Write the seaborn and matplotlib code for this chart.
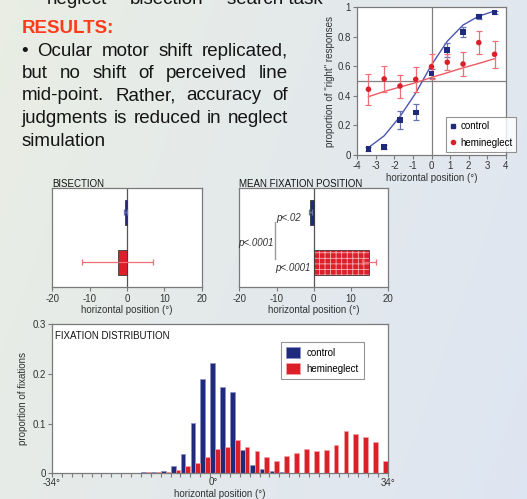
import numpy as np
import pandas as pd
import matplotlib
matplotlib.use("Agg")
import matplotlib.pyplot as plt
import seaborn as sns
from matplotlib.lines import Line2D
from matplotlib.patches import Patch
from matplotlib.ticker import FuncFormatter
import matplotlib.transforms as mtransforms

# ---------------- data ----------------
psy_x = [-3.4, -2.55, -1.7, -0.85, 0.0, 0.85, 1.7, 2.55, 3.4]
ctrl_prop = [0.041, 0.056, 0.237, 0.289, 0.553, 0.711, 0.831, 0.937, 0.966]
ctrl_err = [0.015, 0.015, 0.06, 0.055, 0.03, 0.045, 0.035, 0.015, 0.01]
ctrl_fit = [0.05, 0.13, 0.26, 0.42, 0.61, 0.77, 0.88, 0.94, 0.975]
neg_prop = [0.445, 0.515, 0.467, 0.512, 0.598, 0.628, 0.616, 0.761, 0.682]
neg_err = [0.105, 0.09, 0.078, 0.087, 0.085, 0.053, 0.08, 0.08, 0.09]
neg_fit = [0.395, 0.43, 0.46, 0.49, 0.525, 0.557, 0.59, 0.62, 0.652]

groups = ["control", "hemineglect"]
bisect_mean = [-0.45, -2.5]
bisect_err = [0.4, 9.5]
fix_mean = [-0.9, 14.85]
fix_err = [0.4, 1.8]
p_labels = ["p<.02", "p<.0001", "p<.0001"]

bin_left = list(range(-34, 34, 2))  # 2-degree bins, -34..34
hist_ctrl = [0.0008, 0.0008, 0.0008, 0.0008, 0.0008, 0.0008, 0.001, 0.001, 0.001,
             0.002, 0.003, 0.005, 0.015, 0.038, 0.102, 0.19, 0.223, 0.174, 0.164,
             0.047, 0.017, 0.009, 0.005, 0.003, 0.001,
             0.0005, 0.0005, 0.0005, 0.0005, 0.0005, 0.0005, 0.0005, 0.0005, 0.0005]
hist_neg = [0.0008, 0.0008, 0.0008, 0.0008, 0.0008, 0.0008, 0.0008, 0.0008, 0.0008,
            0.002, 0.002, 0.002, 0.006, 0.015, 0.020, 0.033, 0.049, 0.053, 0.067,
            0.053, 0.045, 0.032, 0.025, 0.034, 0.040, 0.048, 0.044, 0.046, 0.057,
            0.086, 0.080, 0.074, 0.063, 0.024]
hist_xlabels = ["-34°", "0°", "34°"]

# ---------------- style ----------------
BLUE = "#1f2a7c"
RED = "#dc2029"
BLUE_ERR = "#6a72b0"
RED_ERR = "#ee6f76"
SPINE = "#7a7a7a"
TXT = "#151515"
TICK_TXT = "#333333"
BODY_FS = 13.5

plt.rcParams["font.family"] = ["Liberation Sans", "DejaVu Sans"]
plt.rcParams["axes.unicode_minus"] = False
plt.rcParams["hatch.linewidth"] = 0.6

W, H = 527, 499
fig = plt.figure(figsize=(W / 100, H / 100), dpi=100)


def fx(x):
    return x / W


def fy(y):
    return 1 - y / H


def rect(l, t, r, b):
    return [l / W, 1 - b / H, (r - l) / W, (b - t) / H]


def style_axes(ax, fs=7):
    for s in ax.spines.values():
        s.set_color(SPINE)
        s.set_linewidth(0.9)
    ax.tick_params(labelsize=fs, colors=SPINE, labelcolor=TICK_TXT,
                   length=3, width=0.8, pad=1.5)
    ax.set_facecolor("white")


# ---------------- background ----------------
bg = fig.add_axes([0, 0, 1, 1], zorder=-10)
gx, gy = np.meshgrid(np.linspace(0, 1, 200), np.linspace(0, 1, 200))
tt = np.clip(0.75 * gx + 0.25 * gy, 0, 1)[..., None]
c0 = np.array([0.915, 0.931, 0.895])
c1 = np.array([0.870, 0.900, 0.950])
bg.imshow(c0 * (1 - tt) + c1 * tt, aspect="auto", extent=[0, 1, 0, 1], origin="upper")
bg.axis("off")

# ---------------- poster text ----------------
renderer = fig.canvas.get_renderer()
for word, x in [("neglect", 46.5), ("bisection", 130), ("search task", 227)]:
    fig.text(fx(x), fy(3.5), word, fontsize=BODY_FS, color=TXT, va="baseline", ha="left")

fig.text(fx(21.7), fy(33.3), "RESULTS:", fontsize=13.5, fontweight="bold",
         color="#ff3b1c", va="baseline", ha="left")


def justified(words, x0, x1, ybase, fs=BODY_FS):
    arts = [fig.text(0, 0, w, fontsize=fs, color=TXT, va="baseline", ha="left") for w in words]
    widths = [a.get_window_extent(renderer).width for a in arts]
    gap = (x1 - x0 - sum(widths)) / (len(words) - 1)
    x = x0
    for a, w in zip(arts, widths):
        a.set_position((fx(x), fy(ybase)))
        x += w + gap


body = [
    ["•", "Ocular", "motor", "shift", "replicated,"],
    ["but", "no", "shift", "of", "perceived", "line"],
    ["mid-point.", "Rather,", "accuracy", "of"],
    ["judgments", "is", "reduced", "in", "neglect"],
]
baselines = [55.5, 78, 100.5, 123]
for words, yb in zip(body, baselines):
    justified(words, 21.7, 288.3, yb)
fig.text(fx(21.7), fy(145.5), "simulation", fontsize=BODY_FS, color=TXT,
         va="baseline", ha="left")

# ---------------- psychometric plot ----------------
ax = fig.add_axes(rect(357.3, 7.3, 505.7, 155))
style_axes(ax)
ax.axvline(0, color="#808080", lw=0.9, zorder=1)
ax.axhline(0.5, color="#808080", lw=0.9, zorder=1)
sns.lineplot(x=psy_x, y=ctrl_fit, color="#4a55b0", lw=1.0, ax=ax, zorder=2)
sns.lineplot(x=psy_x, y=neg_fit, color="#ec5a62", lw=1.0, ax=ax, zorder=2)
ax.errorbar(psy_x, ctrl_prop, yerr=ctrl_err, fmt="none", ecolor=BLUE_ERR,
            elinewidth=0.9, capsize=2.5, capthick=0.9, zorder=3)
ax.errorbar(psy_x, neg_prop, yerr=neg_err, fmt="none", ecolor=RED_ERR,
            elinewidth=0.9, capsize=2.5, capthick=0.9, zorder=3)
sns.scatterplot(x=psy_x, y=ctrl_prop, marker="s", color=BLUE, s=16,
                edgecolor="none", ax=ax, zorder=4)
sns.scatterplot(x=psy_x, y=neg_prop, marker="o", color=RED, s=16,
                edgecolor="none", ax=ax, zorder=4)
ax.set_xlim(-4, 4)
ax.set_ylim(0, 1)
ax.set_xticks(range(-4, 5))
ax.set_yticks([0, 0.2, 0.4, 0.6, 0.8, 1.0])
ax.yaxis.set_major_formatter(FuncFormatter(lambda v, p: f"{v:g}"))
ax.set_xlabel("horizontal position (°)", fontsize=7, color=TICK_TXT, labelpad=1)
ax.set_ylabel('proportion of "right" responses', fontsize=7, color=TICK_TXT, labelpad=2)
h = [Line2D([], [], marker="s", color=BLUE, ls="none", markersize=3),
     Line2D([], [], marker="o", color=RED, ls="none", markersize=3)]
leg = ax.legend(h, groups, loc="lower left", bbox_to_anchor=(0.596, 0.022),
                borderaxespad=0, fontsize=7, frameon=True, fancybox=False,
                handlelength=0.6, handletextpad=0.5, borderpad=0.4, labelspacing=0.7)
leg.get_frame().set_edgecolor(SPINE)
leg.get_frame().set_linewidth(0.8)
leg.set_zorder(10)


# ---------------- bar panels ----------------
def bar_panel(ax, means, errs, title):
    style_axes(ax)
    sns.barplot(x=means, y=groups, hue=groups, palette=[BLUE, RED], orient="h",
                width=0.5, saturation=1, legend=False, ax=ax,
                edgecolor="#3a3a3a", linewidth=0.6, zorder=2)
    for i, (m, e, c) in enumerate(zip(means, errs, [BLUE_ERR, RED_ERR])):
        ax.errorbar([m], [i], xerr=[e], fmt="none", ecolor=c,
                    elinewidth=0.9, capsize=2.5, capthick=0.9, zorder=3)
    ax.axvline(0, color="#555555", lw=0.9, zorder=1)
    ax.set_xlim(-20, 20)
    ax.set_ylim(1.497, -0.483)
    ax.set_xticks([-20, -10, 0, 10, 20])
    ax.set_yticks([])
    ax.set_ylabel("")
    ax.set_xlabel("horizontal position (°)", fontsize=7, color=TICK_TXT, labelpad=1)
    ax.text(0, 1.018, title, transform=ax.transAxes, fontsize=7, color=TXT,
            ha="left", va="baseline")


axb = fig.add_axes(rect(52.3, 188.3, 201.7, 287.3))
bar_panel(axb, bisect_mean, bisect_err, "BISECTION")

axm = fig.add_axes(rect(239.3, 188.3, 388.3, 287.3))
bar_panel(axm, fix_mean, fix_err, "MEAN FIXATION POSITION")
for p in axm.patches:
    fc = p.get_facecolor()
    if fc[0] > 0.6:
        p.set_hatch("+++")
        p._hatch_color = (1.0, 0.88, 0.9, 0.75)
# significance annotations
axm.plot([-10.5, -10.5], [0.2, 0.94], color="#9a9a9a", lw=1.0, zorder=2)
axm.text(-6.9, 0.117, p_labels[0], fontsize=7, style="italic", color=TICK_TXT,
         ha="center", va="center")
axm.text(-15.5, 0.605, p_labels[1], fontsize=7, style="italic", color=TICK_TXT,
         ha="center", va="center")
axm.text(-5.7, 1.105, p_labels[2], fontsize=7, style="italic", color=TICK_TXT,
         ha="center", va="center")

# ---------------- fixation histogram ----------------
axh = fig.add_axes(rect(52, 324.3, 388, 473.3))
style_axes(axh)
axh.tick_params(axis="x", pad=0.5)
hist_df = pd.DataFrame({
    "bin": bin_left * 2,
    "prop": hist_ctrl + hist_neg,
    "group": ["control"] * len(bin_left) + ["hemineglect"] * len(bin_left),
})
sns.barplot(data=hist_df, x="bin", y="prop", hue="group", palette=[BLUE, RED],
            width=0.96, saturation=1, legend=False, ax=axh, linewidth=0.5)
for cont, ec in zip(axh.containers, ["#8a90c8", "#f4a0a5"]):
    for p in cont:
        p.set_edgecolor(ec)
n = len(bin_left)
axh.set_xlim(-0.5, n - 0.5)
axh.set_ylim(0, 0.3)
axh.set_yticks([0, 0.1, 0.2, 0.3])
axh.yaxis.set_major_formatter(FuncFormatter(lambda v, p: f"{v:g}"))
edges = [i - 0.5 for i in range(n + 1)]
axh.set_xticks(edges)
axh.set_xticklabels([hist_xlabels[0]] + [""] * (n - 1) + [hist_xlabels[2]])
trans = mtransforms.blended_transform_factory(axh.transData, axh.transAxes)
axh.text(15.8, -0.026, hist_xlabels[1], transform=trans, fontsize=7,
         color=TICK_TXT, ha="center", va="top")
axh.set_xlabel("horizontal position (°)", fontsize=7, color=TICK_TXT, labelpad=0.5)
axh.set_ylabel("proportion of fixations", fontsize=7, color=TICK_TXT, labelpad=3)
axh.text(0.009, 0.901, "FIXATION DISTRIBUTION", transform=axh.transAxes,
         fontsize=7, color=TXT, ha="left", va="baseline")
hh = [Patch(facecolor=BLUE, edgecolor="#8a90c8", lw=0.5),
      Patch(facecolor=RED, edgecolor="#f4a0a5", lw=0.5)]
leg2 = axh.legend(hh, groups, loc="upper left", bbox_to_anchor=(0.6815, 0.883),
                  borderaxespad=0, fontsize=7, frameon=True, fancybox=False,
                  handlelength=1.44, handleheight=1.44, handletextpad=0.7,
                  borderpad=0.5, labelspacing=0.5)
leg2.get_frame().set_edgecolor(SPINE)
leg2.get_frame().set_linewidth(0.8)

fig.savefig("out.png", dpi=100)
